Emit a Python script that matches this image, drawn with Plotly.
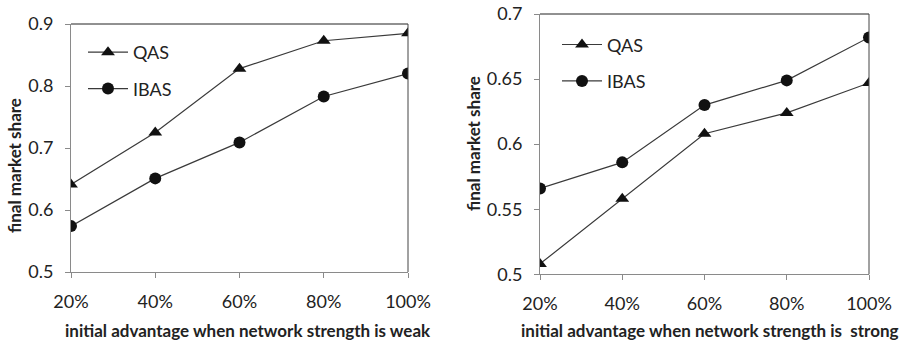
import plotly.graph_objects as go

categories = ["20%", "40%", "60%", "80%", "100%"]
weak_qas = [0.641, 0.725, 0.828, 0.873, 0.885]
weak_ibas = [0.574, 0.651, 0.709, 0.783, 0.820]
strong_qas = [0.508, 0.558, 0.608, 0.624, 0.647]
strong_ibas = [0.566, 0.586, 0.630, 0.649, 0.682]
weak_ticks = [0.5, 0.6, 0.7, 0.8, 0.9]
weak_ticktext = ["0.5", "0.6", "0.7", "0.8", "0.9"]
strong_ticks = [0.5, 0.55, 0.6, 0.65, 0.7]
strong_ticktext = ["0.5", "0.55", "0.6", "0.65", "0.7"]

FONT = "Lato"
TXT = "#222222"
LINE = "#3a3a3a"

W, H = 920, 344

def px(sx):
    return sx / W

def py(sy):
    return (H - sy) / H

fig = go.Figure()

def add(y, name, symbol, xa, ya, legend):
    fig.add_trace(go.Scatter(
        x=categories, y=y, name=name, mode="lines+markers",
        line=dict(color=LINE, width=1.2),
        marker=dict(symbol=symbol, size=12, color="#111111"),
        xaxis=xa, yaxis=ya, legend=legend, legendgroup=name + legend,
    ))

add(weak_qas, "QAS", "triangle-up", "x", "y", "legend")
add(weak_ibas, "IBAS", "circle", "x", "y", "legend")
add(strong_qas, "QAS", "triangle-up", "x2", "y2", "legend2")
add(strong_ibas, "IBAS", "circle", "x2", "y2", "legend2")

axis_common = dict(
    showgrid=False, zeroline=False, showline=True, linecolor="#8a8a8a", linewidth=1,
    ticks="outside", ticklen=5, tickcolor="#8a8a8a", tickwidth=1, automargin=False,
    ticklabeloverflow="allow",
    tickfont=dict(family=FONT, size=18, color=TXT),
)

leg_common = dict(
    font=dict(family=FONT, size=18, color=TXT), bgcolor="rgba(0,0,0,0)",
    traceorder="grouped", tracegroupgap=10, itemwidth=40,
    xanchor="left", yanchor="top",
)

fig.update_layout(
    template="none",
    width=W, height=H,
    margin=dict(l=0, r=0, t=0, b=0),
    paper_bgcolor="white", plot_bgcolor="white",
    showlegend=True,
    xaxis=dict(type="category", domain=[px(71), px(408)], range=[0, 4], anchor="y",
               ticklabelstandoff=8, **axis_common),
    yaxis=dict(domain=[py(272), py(24)], range=[0.5, 0.9], anchor="x", tickvals=weak_ticks,
               ticktext=weak_ticktext, ticklabelstandoff=8, **axis_common),
    xaxis2=dict(type="category", domain=[px(540), px(869)], range=[0, 4], anchor="y2",
                ticklabelstandoff=8, **axis_common),
    yaxis2=dict(domain=[py(274.3), py(14)], range=[0.5, 0.7], anchor="x2", tickvals=strong_ticks,
                ticktext=strong_ticktext, ticklabelstandoff=8, **axis_common),
    legend=dict(x=px(83), y=py(34), **leg_common),
    legend2=dict(x=px(557), y=py(26.3), **leg_common),
)

for xr, yr in [("x", "y"), ("x2", "y2")]:
    fig.add_shape(type="line", xref=f"{xr} domain", yref=f"{yr} domain",
                  x0=0, x1=1, y0=1, y1=1, line=dict(color="#222222", width=1))
    fig.add_shape(type="line", xref=f"{xr} domain", yref=f"{yr} domain",
                  x0=1, x1=1, y0=0, y1=1, line=dict(color="#444444", width=1))

title_font = dict(family=FONT, size=17, color=TXT, weight="bold")
fig.add_annotation(text="initial advantage when network strength is weak", xref="paper", yref="paper",
                   x=px(248), y=py(330), showarrow=False, font=title_font,
                   xanchor="center", yanchor="middle")
fig.add_annotation(text="initial advantage when network strength is&nbsp; strong", xref="paper", yref="paper",
                   x=px(710), y=py(330), showarrow=False, font=title_font,
                   xanchor="center", yanchor="middle")
fig.add_annotation(text="final market share", xref="paper", yref="paper",
                   x=px(14), y=py(166), showarrow=False, font=title_font, textangle=-90,
                   xanchor="center", yanchor="middle")
fig.add_annotation(text="final market share", xref="paper", yref="paper",
                   x=px(473), y=py(144), showarrow=False, font=title_font, textangle=-90,
                   xanchor="center", yanchor="middle")

fig.write_html("out.html", config={"displayModeBar": False},
               post_script="document.body.style.margin='0';document.body.style.overflow='hidden';")
